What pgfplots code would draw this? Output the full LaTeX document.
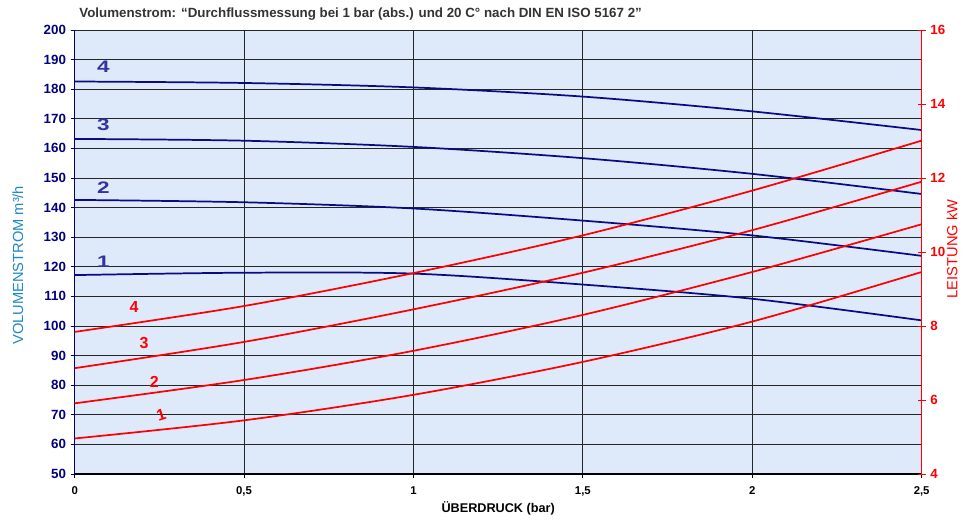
\documentclass[border=0pt]{standalone}
\usepackage{fontspec}
\setmainfont{Liberation Sans}
\usepackage{pgfplots}
\pgfplotsset{compat=1.18}

\definecolor{navyt}{RGB}{0,0,128}
\definecolor{bgblue}{RGB}{222,234,249}
\definecolor{lblblue}{RGB}{30,136,200}
\definecolor{curveblue}{RGB}{10,10,130}
\definecolor{numblue}{RGB}{50,50,160}
\definecolor{titlegray}{RGB}{51,51,51}

\begin{document}
\begin{tikzpicture}
\path[use as bounding box] (-56.0pt,-34.5pt) rectangle (671.5pt,355.5pt);

% left axis: volume flow
\begin{axis}[
    at={(0,0)}, anchor=south west,
    scale only axis,
    width=635.25pt, height=333pt,
    xmin=0, xmax=2.5, ymin=50, ymax=200,
    xtick={0,0.5,...,2.5},
    ytick={50,60,...,200},
    axis y line*=left,
    axis x line*=bottom,
    axis line style={line width=0.8pt},
    y axis line style={navyt},
    x axis line style={black},
    axis background/.style={fill=bgblue},
    grid=major,
    major grid style={black!85, line width=0.6pt},
    tick align=outside,
    major tick length=3pt,
    ytick style={navyt, line width=0.6pt},
    xtick style={black, line width=0.6pt},
    /pgf/number format/assume math mode=true,
    /pgf/number format/use comma,
    xticklabel style={font=\bfseries\fontsize{8.5}{10}\selectfont, black, yshift=-3pt},
    yticklabel style={font=\bfseries\fontsize{10}{12}\selectfont, navyt},
    xlabel={ÜBERDRUCK (bar)},
    xlabel style={font=\bfseries\fontsize{9.5}{11}\selectfont, black, yshift=3pt},
    ylabel={VOLUMENSTROM m³/h},
    ylabel style={font=\fontsize{11}{13}\selectfont, lblblue,
        at={(axis description cs:-0.067,0.47)}, anchor=center},
    clip=false,
]
\addplot[smooth, curveblue, line width=1.3pt] coordinates {
    (0,182.6) (0.5,182.1) (1,180.6) (1.5,177.5) (2,172.5) (2.5,166.2)
};
\addplot[smooth, curveblue, line width=1.3pt] coordinates {
    (0,163.2) (0.5,162.6) (1,160.5) (1.5,156.7) (2,151.4) (2.5,144.6)
};
\addplot[smooth, curveblue, line width=1.3pt] coordinates {
    (0,142.6) (0.5,141.8) (1,139.7) (1.5,135.6) (2,130.6) (2.5,123.7)
};
\addplot[smooth, curveblue, line width=1.3pt] coordinates {
    (0,117.2) (0.5,118.0) (1,117.7) (1.5,114.0) (2,109.2) (2.5,101.9)
};
\node[numblue, font=\bfseries\fontsize{12.5}{14}\selectfont, xscale=1.35] at (axis cs:0.085,187.6) {4};
\node[numblue, font=\bfseries\fontsize{12.5}{14}\selectfont, xscale=1.35] at (axis cs:0.085,167.9) {3};
\node[numblue, font=\bfseries\fontsize{12.5}{14}\selectfont, xscale=1.35] at (axis cs:0.085,146.6) {2};
\node[numblue, font=\bfseries\fontsize{12.5}{14}\selectfont, xscale=1.35] at (axis cs:0.085,121.6) {1};
\node[red, font=\bfseries\fontsize{12}{13}\selectfont] at (axis cs:0.175,106.4) {4};
\node[red, font=\bfseries\fontsize{12}{13}\selectfont] at (axis cs:0.205,94.3) {3};
\node[red, font=\bfseries\fontsize{12}{13}\selectfont] at (axis cs:0.235,81.1) {2};
\node[red, font=\bfseries\fontsize{12}{13}\selectfont, rotate=18] at (axis cs:0.255,70.0) {1};
\node[anchor=west, titlegray, font=\bfseries\fontsize{10}{12}\selectfont] at (rel axis cs:0,1.036) {Volumenstrom: “Durchflussmessung bei 1 bar (abs.) und 20 C° nach DIN EN ISO 5167 2”};
\end{axis}

% right axis: power
\begin{axis}[
    at={(0,0)}, anchor=south west,
    scale only axis,
    width=635.25pt, height=333pt,
    xmin=0, xmax=2.5, ymin=4, ymax=16,
    ytick={4,6,...,16},
    axis y line*=right,
    axis x line=none,
    axis line style={red, line width=0.8pt},
    tick align=center,
    major tick length=6pt,
    ytick style={red, line width=0.6pt},
    /pgf/number format/assume math mode=true,
    yticklabel style={font=\bfseries\fontsize{10}{12}\selectfont, red},
    ylabel={LEISTUNG kW},
    ylabel style={font=\fontsize{11}{13}\selectfont, red,
        at={(axis description cs:1.036,0.507)}, anchor=center},
]
\addplot[smooth, red, line width=1.3pt] coordinates {
    (0,7.84) (0.5,8.54) (1,9.43) (1.5,10.45) (2,11.66) (2.5,13.01)
};
\addplot[smooth, red, line width=1.3pt] coordinates {
    (0,6.86) (0.5,7.57) (1,8.45) (1.5,9.44) (2,10.59) (2.5,11.90)
};
\addplot[smooth, red, line width=1.3pt] coordinates {
    (0,5.91) (0.5,6.54) (1,7.33) (1.5,8.30) (2,9.46) (2.5,10.75)
};
\addplot[smooth, red, line width=1.3pt] coordinates {
    (0,4.96) (0.5,5.45) (1,6.14) (1.5,7.03) (2,8.12) (2.5,9.46)
};
\end{axis}
\end{tikzpicture}
\end{document}
